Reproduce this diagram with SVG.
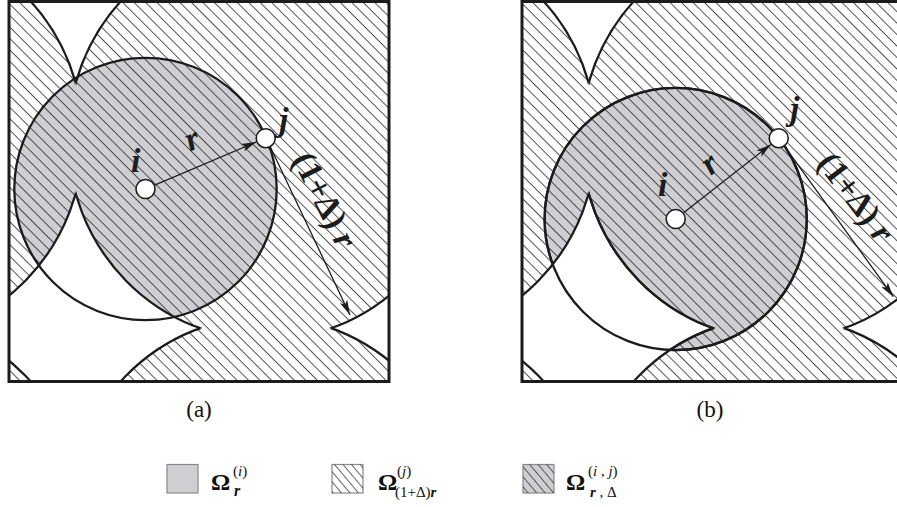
<svg xmlns="http://www.w3.org/2000/svg" width="897" height="507" viewBox="0 0 897 507">
<style>
.ln{fill:none;stroke:#1c1c1c;stroke-width:2.3}
.frame{fill:none;stroke:#1c1c1c;stroke-width:3}
.node{fill:#fff;stroke:#1c1c1c;stroke-width:1.6}
.arr{fill:none;stroke:#1c1c1c;stroke-width:1.3}
.lbl{font-family:"Liberation Serif",serif;font-weight:bold;font-style:italic;fill:#1c1c1c}
.lblu{font-family:"Liberation Serif",serif;font-weight:bold;fill:#1c1c1c}
.cap{font-family:"Liberation Serif",serif;font-size:23px;fill:#111}
.leg{font-family:"Liberation Serif",serif;fill:#111}
.gray{fill:#cfcfd3}
.bx{stroke:#8a8a8a;stroke-width:1.2}
</style>
<defs>
<pattern id="hatch" patternUnits="userSpaceOnUse" width="8.1" height="20" patternTransform="rotate(-45)"><line x1="4" y1="-1" x2="4" y2="21" stroke="#1e1e1e" stroke-width="0.8"/></pattern>
<pattern id="hatchL" patternUnits="userSpaceOnUse" width="6.5" height="20" patternTransform="rotate(-40)"><line x1="3.2" y1="-1" x2="3.2" y2="21" stroke="#333" stroke-width="0.8"/></pattern>
<clipPath id="H">
<ellipse cx="265.7" cy="138.2" rx="197.6" ry="201.5"/>
<ellipse cx="-114.3" cy="138.2" rx="197.6" ry="201.5"/>
<ellipse cx="265.7" cy="518.2" rx="197.6" ry="201.5"/>
<ellipse cx="-114.3" cy="518.2" rx="197.6" ry="201.5"/>
</clipPath>
<mask id="mA" maskUnits="userSpaceOnUse" x="-20" y="-20" width="440" height="420">
<rect x="9" y="1.5" width="380" height="380" fill="#fff"/>
<ellipse cx="-114.3" cy="138.2" rx="197.6" ry="201.5" fill="#000"/>
<ellipse cx="265.7" cy="518.2" rx="197.6" ry="201.5" fill="#000"/>
<ellipse cx="-114.3" cy="518.2" rx="197.6" ry="201.5" fill="#000"/>
</mask>
<mask id="mB" maskUnits="userSpaceOnUse" x="-20" y="-20" width="440" height="420">
<rect x="9" y="1.5" width="380" height="380" fill="#fff"/>
<ellipse cx="265.7" cy="138.2" rx="197.6" ry="201.5" fill="#000"/>
<ellipse cx="265.7" cy="518.2" rx="197.6" ry="201.5" fill="#000"/>
<ellipse cx="-114.3" cy="518.2" rx="197.6" ry="201.5" fill="#000"/>
</mask>
<mask id="mC" maskUnits="userSpaceOnUse" x="-20" y="-20" width="440" height="420">
<rect x="9" y="1.5" width="380" height="380" fill="#fff"/>
<ellipse cx="265.7" cy="138.2" rx="197.6" ry="201.5" fill="#000"/>
<ellipse cx="-114.3" cy="138.2" rx="197.6" ry="201.5" fill="#000"/>
<ellipse cx="-114.3" cy="518.2" rx="197.6" ry="201.5" fill="#000"/>
</mask>
<mask id="mD" maskUnits="userSpaceOnUse" x="-20" y="-20" width="440" height="420">
<rect x="9" y="1.5" width="380" height="380" fill="#fff"/>
<ellipse cx="265.7" cy="138.2" rx="197.6" ry="201.5" fill="#000"/>
<ellipse cx="-114.3" cy="138.2" rx="197.6" ry="201.5" fill="#000"/>
<ellipse cx="265.7" cy="518.2" rx="197.6" ry="201.5" fill="#000"/>
</mask>
<mask id="mAi" maskUnits="userSpaceOnUse" x="-20" y="-20" width="440" height="420">
<circle cx="162.7" cy="219" r="131.1" fill="#fff"/>
<ellipse cx="-114.3" cy="138.2" rx="197.6" ry="201.5" fill="#000"/>
<ellipse cx="265.7" cy="518.2" rx="197.6" ry="201.5" fill="#000"/>
<ellipse cx="-114.3" cy="518.2" rx="197.6" ry="201.5" fill="#000"/>
</mask>
<mask id="mCi" maskUnits="userSpaceOnUse" x="-20" y="-20" width="440" height="420">
<circle cx="162.7" cy="219" r="131.1" fill="#fff"/>
<ellipse cx="265.7" cy="138.2" rx="197.6" ry="201.5" fill="#000"/>
<ellipse cx="-114.3" cy="138.2" rx="197.6" ry="201.5" fill="#000"/>
<ellipse cx="-114.3" cy="518.2" rx="197.6" ry="201.5" fill="#000"/>
</mask>
<marker id="ah" viewBox="0 0 15 8" refX="15" refY="4" markerWidth="15" markerHeight="8" markerUnits="userSpaceOnUse" orient="auto"><path d="M0,0 L15,4 L0,8 L3.5,4 Z" fill="#1c1c1c"/></marker>
</defs>

<g id="panel-a">
<rect x="9" y="1.5" width="380" height="380" fill="#fff"/>
<circle cx="145.5" cy="189" r="131.2" class="gray" clip-path="url(#H)"/>
<rect x="9" y="1.5" width="380" height="380" fill="url(#hatch)" clip-path="url(#H)"/>
<ellipse cx="265.7" cy="138.2" rx="197.6" ry="201.5" class="ln" mask="url(#mA)"/>
<ellipse cx="-114.3" cy="138.2" rx="197.6" ry="201.5" class="ln" mask="url(#mB)"/>
<ellipse cx="265.7" cy="518.2" rx="197.6" ry="201.5" class="ln" mask="url(#mC)"/>
<ellipse cx="-114.3" cy="518.2" rx="197.6" ry="201.5" class="ln" mask="url(#mD)"/>
<circle cx="145.5" cy="189" r="131.2" class="ln"/>
<g id="connectors-a">
<line x1="154.7" y1="185.1" x2="256.5" y2="141.9" class="arr" marker-end="url(#ah)"/>
<line x1="270" y1="146.2" x2="350" y2="315" class="arr" marker-end="url(#ah)"/>
</g>
<g id="node-i-a"><circle cx="145.5" cy="189" r="9.5" class="node"/><text x="131" y="172" class="lbl" font-size="34">i</text></g>
<g id="node-j-a"><circle cx="265.7" cy="138.2" r="9.5" class="node"/><text x="279" y="131" class="lbl" font-size="34">j</text></g>
<text transform="translate(196,149) rotate(-23)" text-anchor="middle" class="lbl" font-size="34">r</text>
<text transform="translate(315,205) rotate(63)" text-anchor="middle" class="lblu" font-size="34">(1+Δ) <tspan font-style="italic">r</tspan></text>
<rect x="9" y="1.5" width="380" height="380" class="frame"/>
</g>

<g id="panel-b" transform="translate(513,0)">
<rect x="9" y="1.5" width="380" height="380" fill="#fff"/>
<circle cx="162.7" cy="219" r="131.1" class="gray" clip-path="url(#H)"/>
<rect x="9" y="1.5" width="380" height="380" fill="url(#hatch)" clip-path="url(#H)"/>
<ellipse cx="265.7" cy="138.2" rx="197.6" ry="201.5" class="ln" mask="url(#mA)"/>
<ellipse cx="-114.3" cy="138.2" rx="197.6" ry="201.5" class="ln" mask="url(#mB)"/>
<ellipse cx="265.7" cy="518.2" rx="197.6" ry="201.5" class="ln" mask="url(#mC)"/>
<ellipse cx="-114.3" cy="518.2" rx="197.6" ry="201.5" class="ln" mask="url(#mD)"/>
<circle cx="162.7" cy="219" r="131.1" class="ln" stroke-width="2.1"/>
<circle cx="162.7" cy="219" r="131.1" class="ln" stroke-width="3.4" clip-path="url(#H)"/>
<ellipse cx="265.7" cy="138.2" rx="197.6" ry="201.5" class="ln" stroke-width="4" mask="url(#mAi)"/>
<ellipse cx="265.7" cy="518.2" rx="197.6" ry="201.5" class="ln" stroke-width="3.6" mask="url(#mCi)"/>
<g id="connectors-b">
<line x1="170.6" y1="212.8" x2="257.8" y2="144.4" class="arr" marker-end="url(#ah)"/>
<line x1="271.4" y1="146.1" x2="380.3" y2="296.7" class="arr" marker-end="url(#ah)"/>
</g>
<g id="node-i-b"><circle cx="162.7" cy="219" r="9.5" class="node"/><text x="145" y="196" class="lbl" font-size="34">i</text></g>
<g id="node-j-b"><circle cx="265.7" cy="138.2" r="9.5" class="node"/><text x="277" y="120" class="lbl" font-size="34">j</text></g>
<text transform="translate(203,172) rotate(-38)" text-anchor="middle" class="lbl" font-size="34">r</text>
<text transform="translate(334,204) rotate(53)" text-anchor="middle" class="lblu" font-size="34">(1+Δ) <tspan font-style="italic">r</tspan></text>
<rect x="9" y="1.5" width="380" height="380" class="frame"/>
</g>

<text x="199" y="417" text-anchor="middle" class="cap">(a)</text>
<text x="710" y="417" text-anchor="middle" class="cap">(b)</text>

<g id="legend">
<rect x="167" y="464.5" width="31" height="28.5" class="gray bx"/>
<rect x="332" y="464.5" width="31" height="28.5" fill="#fff" class="bx"/>
<rect x="332" y="464.5" width="31" height="28.5" fill="url(#hatchL)"/>
<rect x="523" y="464.5" width="31" height="28.5" class="gray bx"/>
<rect x="523" y="464.5" width="31" height="28.5" fill="url(#hatchL)"/>
<text x="211" y="490" class="leg" font-size="24" font-weight="bold">Ω</text>
<text x="233" y="476" class="leg" font-size="15">(<tspan font-style="italic">i</tspan>)</text>
<text x="234" y="496" class="leg" font-size="16" font-weight="bold" font-style="italic">r</text>
<text x="378" y="490" class="leg" font-size="24" font-weight="bold">Ω</text>
<text x="397" y="476" class="leg" font-size="15">(<tspan font-style="italic">j</tspan>)</text>
<text x="395" y="497" class="leg" font-size="15">(1+Δ)<tspan font-weight="bold" font-style="italic">r</tspan></text>
<text x="566" y="490" class="leg" font-size="24" font-weight="bold">Ω</text>
<text x="588" y="476" class="leg" font-size="15">(<tspan font-style="italic">i</tspan> , <tspan font-style="italic">j</tspan>)</text>
<text x="590" y="497" class="leg" font-size="15"><tspan font-weight="bold" font-style="italic">r</tspan> , Δ</text>
</g>
</svg>
